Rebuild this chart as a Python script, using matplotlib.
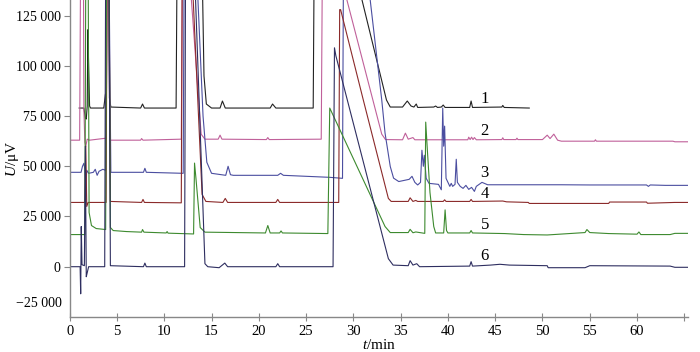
import matplotlib

matplotlib.use("Agg")
import matplotlib.pyplot as plt  # noqa: E402
import matplotlib.transforms as mtransforms  # noqa: E402

plt.rcParams["font.family"] = ["Liberation Serif", "DejaVu Serif"]
plt.rcParams["mathtext.fontset"] = "custom"
plt.rcParams["mathtext.rm"] = "Liberation Serif"
plt.rcParams["mathtext.it"] = "Liberation Serif:italic"

# chromatogram traces: retention time (min), signal (uV)
# values of 150000 stand for peaks that run off the top of the plot
T1 = [1.0, 1.5, 1.65, 1.75, 1.85, 1.92, 2.0, 2.1, 2.2, 3.6, 3.78, 3.88, 3.95, 4.12,
      4.2, 4.35, 7.5, 7.7, 7.9, 11.25, 11.35, 14.0, 14.2, 14.45, 15.0, 15.9, 16.15,
      16.45, 21.2, 21.45, 21.8, 25.75, 25.85, 30.85, 33.5, 33.9, 35.2, 35.7, 36.1,
      36.4, 36.65, 36.8, 38.5, 38.7, 38.9, 39.3, 39.5, 39.7, 42.3, 42.45, 42.6, 45.7,
      45.8, 45.95, 48.6]
U1 = [79000, 79000, 74000, 73500, 80000, 118000, 100000, 80000, 79000, 79000, 86000,
      83000, 150000, 150000, 84000, 79500, 79000, 81000, 79000, 79000, 150000, 150000,
      95000, 81000, 79000, 79000, 82500, 79000, 79000, 81000, 79000, 79000, 150000,
      134000, 83000, 79500, 79500, 82500, 80000, 79500, 81000, 79300, 79500, 80000,
      79300, 79500, 80500, 79300, 79300, 82500, 79300, 79500, 80300, 79300, 79000]

T2 = [0.0, 1.05, 1.15, 1.45, 1.5, 1.6, 1.7, 1.85, 2.1, 3.85, 3.95, 4.1, 4.25, 7.5,
      7.6, 7.75, 11.8, 11.92, 12.85, 13.9, 14.3, 15.7, 15.9, 16.1, 20.8, 20.95, 21.1,
      26.6, 26.72, 29.25, 33.0, 33.4, 35.2, 35.5, 35.8, 36.3, 36.5, 42.1, 42.2, 42.35,
      42.5, 42.65, 42.8, 43.0, 45.7, 45.8, 45.9, 47.2, 47.3, 47.4, 50.0, 50.5, 50.8,
      51.2, 51.6, 52.0, 55.5, 55.6, 55.7, 63.8, 64.0, 65.4]
U2 = [63000, 63000, 150000, 150000, 78000, 62000, 60000, 63500, 63000, 64000, 150000,
      150000, 63000, 63000, 63800, 63000, 63500, 150000, 134000, 66000, 63500, 63500,
      65500, 63500, 63300, 64300, 63300, 63500, 150000, 134000, 66000, 63300, 63200,
      66500, 63500, 64300, 63200, 63200, 64500, 63300, 64500, 63300, 64300, 63200,
      63300, 64200, 63300, 63300, 64000, 63300, 63300, 65500, 63800, 66000, 63000,
      62500, 62500, 63200, 62500, 62500, 62200, 62200]

T3 = [0.0, 1.2, 1.35, 1.5, 1.6, 1.7, 1.8, 2.0, 2.5, 2.7, 2.9, 3.1, 3.5, 3.8, 3.9,
      4.15, 4.35, 7.8, 7.95, 8.1, 12.0, 12.1, 13.55, 14.1, 14.5, 15.0, 16.5, 16.75,
      17.0, 17.3, 22.0, 22.3, 22.6, 27.5, 28.85, 28.95, 31.75, 33.0, 33.35, 33.9,
      34.25, 34.8, 35.6, 35.9, 36.2, 36.5, 36.8, 37.1, 37.25, 37.4, 37.5, 37.7, 38.0,
      39.0, 39.3, 39.45, 39.55, 39.65, 39.8, 40.0, 40.2, 40.35, 40.5, 40.75, 40.88,
      41.0, 41.3, 41.6, 41.9, 42.2, 42.5, 42.8, 43.0, 43.6, 44.2, 52.0, 55.0, 61.0,
      61.2, 61.4, 63.0, 65.4]
U3 = [47000, 47000, 50000, 51500, 48500, 40000, 48000, 46500, 47000, 48500, 45500,
      47500, 48500, 48000, 150000, 150000, 47000, 47000, 49000, 47000, 46500, 150000,
      134000, 75000, 52000, 46500, 45500, 50000, 45800, 45500, 45500, 46500, 45500,
      44500, 44000, 150000, 134000, 83000, 66500, 49900, 44100, 42400, 43200, 43500,
      45000, 42000, 40700, 42000, 58000, 50000, 55500, 44000, 41500, 41000, 38300,
      79000, 60000, 70000, 44000, 42000, 40000, 41500, 40000, 41000, 53500, 42000,
      40000, 39000, 40500, 38500, 39500, 37500, 40000, 42000, 40800, 40800, 40700,
      40700, 40000, 40700, 40500, 40500]

T4 = [0.0, 1.6, 1.7, 1.8, 1.95, 3.85, 3.95, 4.15, 4.3, 7.6, 7.75, 7.9, 11.8, 11.9,
      13.05, 14.0, 14.4, 16.2, 16.45, 16.7, 21.8, 22.0, 22.2, 28.45, 28.55, 28.65,
      31.05, 33.7, 34.0, 35.8, 36.0, 36.3, 36.6, 36.8, 39.5, 39.65, 39.8, 42.3, 42.45,
      42.6, 45.8, 46.2, 48.5, 48.6, 57.0, 57.1, 61.0, 61.1, 64.0, 65.4]
U4 = [32000, 32000, 60000, 30000, 32000, 32000, 150000, 150000, 32500, 32000, 33500,
      32000, 31800, 150000, 134000, 36000, 32500, 32000, 34000, 32000, 32000, 33500,
      32000, 32000, 128000, 128000, 83000, 34000, 32500, 32500, 34300, 32500, 33000,
      32500, 32500, 33300, 32500, 32500, 33500, 32500, 32700, 32300, 32000, 31500,
      31500, 32200, 32200, 31600, 32000, 32000]

T5 = [0.0, 1.6, 1.7, 1.95, 2.05, 2.3, 2.8, 3.8, 3.9, 4.15, 4.3, 4.6, 6.0, 7.6, 7.7,
      7.85, 10.2, 10.3, 10.4, 13.1, 13.2, 13.35, 13.8, 14.3, 20.7, 20.95, 21.2, 22.2,
      22.35, 22.5, 27.3, 27.5, 33.35, 33.9, 35.8, 36.0, 36.3, 36.6, 37.55, 37.65,
      37.8, 38.1, 38.5, 38.7, 39.55, 39.7, 39.85, 40.0, 42.3, 42.45, 42.6, 46.0,
      48.0, 50.5, 54.5, 54.7, 55.0, 57.0, 60.0, 60.2, 60.4, 63.5, 64.0, 65.4]
U5 = [16000, 16000, 150000, 150000, 27000, 20500, 19000, 18500, 150000, 150000,
      19500, 18000, 17500, 17200, 18500, 17200, 16800, 17500, 16700, 16300, 51600,
      44000, 19500, 17200, 16800, 20500, 16800, 16800, 17800, 16800, 16500, 79000,
      20000, 17000, 17000, 18600, 16900, 17300, 16600, 72000, 60000, 37000, 20000,
      16800, 16800, 28300, 18000, 16800, 16800, 18000, 16800, 16500, 16000, 15800,
      17000, 18500, 17000, 16500, 16200, 17300, 16000, 16000, 16600, 16600]

T6 = [0.0, 1.1, 1.16, 1.22, 1.3, 1.55, 1.65, 1.75, 1.85, 2.0, 3.7, 3.8, 4.15, 4.3,
      7.8, 7.95, 8.1, 12.15, 12.25, 13.3, 14.3, 14.6, 15.8, 16.4, 16.7, 21.8, 22.0,
      22.2, 27.85, 28.0, 28.15, 33.7, 34.2, 35.8, 36.0, 36.3, 36.7, 37.0, 42.3, 42.45,
      42.6, 44.5, 45.5, 46.5, 50.5, 50.6, 54.5, 55.0, 63.5, 64.0, 65.4]
U6 = [0, 0, -13500, 20000, 1000, 500, 60000, -5000, -3000, 0, 0, 150000, 150000, 500,
      0, 1800, 0, 0, 150000, 134000, 1500, 0, -500, 1800, 0, 0, 1500, 0, 0, 109000,
      105000, 4000, 800, 500, 3000, 800, 1500, 0, 300, 2500, 300, 800, 1200, 800, 500,
      -500, -500, 500, 300, -300, -300]

COLORS = ["#222222", "#c0609a", "#4b4ea0", "#8b2a2a", "#3d8a2f", "#2e2e60"]
LABELS = ["1", "2", "3", "4", "5", "6"]
LABEL_T = 43.9
LABEL_U = [83500, 67500, 46800, 36000, 21000, 5200]

fig = plt.figure(figsize=(7.0, 3.52), dpi=100)
ax = fig.add_axes([0.0996, 0.0997, 0.8834, 0.9003])

for t, u, c in zip([T1, T2, T3, T4, T5, T6], [U1, U2, U3, U4, U5, U6], COLORS):
    ax.plot(t, u, color=c, lw=0.8)

for lab, yv in zip(LABELS, LABEL_U):
    ax.text(LABEL_T, yv, lab, fontsize=12, ha="center", va="center")

ax.set_xlim(0, 65.4)
ax.set_ylim(-25000, 132800)
ax.set_xticks(range(0, 66, 5))
ax.set_xticklabels([str(v) for v in range(0, 61, 5)] + [""])
ax.set_yticks(range(0, 125001, 25000))
ax.set_yticklabels([f"{v // 1000} 000" if v else "0" for v in range(0, 125001, 25000)])

# the -25 000 label sits above the axis corner in the original, without a tick
tr = mtransforms.blended_transform_factory(ax.transAxes, ax.transData)
ax.text(-0.012, -18300, "\u221225 000", transform=tr, ha="right", va="center",
        fontsize=10)

for s in ["top", "right"]:
    ax.spines[s].set_visible(False)
for s in ["left", "bottom"]:
    ax.spines[s].set_color("#888888")
    ax.spines[s].set_linewidth(1.0)
ax.tick_params(axis="y", length=4, width=0.8, color="#888888", pad=2.5, labelsize=10)
ax.tick_params(axis="x", direction="inout", length=6, width=0.8, color="#888888",
               pad=3, labelsize=10.5)

ax.set_xlabel(r"$t$/min", fontsize=11, labelpad=0)
ax.set_ylabel(r"$U$/μV", fontsize=11)
ax.yaxis.set_label_coords(-0.078, 0.5)

fig.savefig("out.png", dpi=100)
